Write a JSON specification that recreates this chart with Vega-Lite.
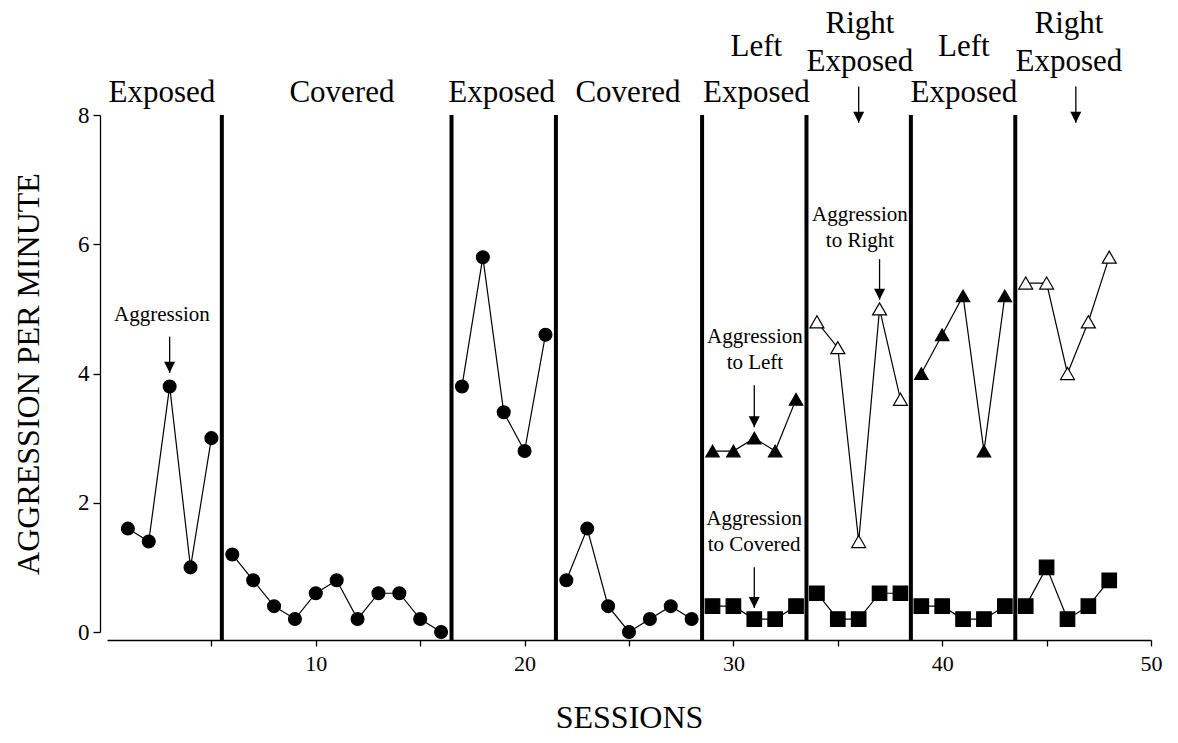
{
  "$schema": "https://vega.github.io/schema/vega-lite/v6.json",
  "width": 1044,
  "height": 517,
  "autosize": {"type": "none"},
  "padding": {"left": 107, "top": 115, "right": 27, "bottom": 111},
  "background": "white",
  "config": {
    "view": {"stroke": null},
    "font": "Liberation Serif",
    "axis": {
      "grid": false,
      "domainColor": "black",
      "tickColor": "black",
      "labelColor": "black",
      "titleColor": "black",
      "labelFont": "Liberation Serif",
      "titleFont": "Liberation Serif",
      "titleFontWeight": "normal",
      "domainWidth": 1.3,
      "tickWidth": 1.3
    }
  },
  "encoding": {
    "x": {
      "field": "s",
      "type": "quantitative",
      "scale": {"domain": [0, 50], "nice": false, "zero": false},
      "axis": {
        "title": "SESSIONS",
        "values": [5, 10, 15, 20, 25, 30, 35, 40, 45, 50],
        "labelExpr": "datum.value % 10 === 0 ? datum.label : ''",
        "offset": 8,
        "tickSize": 6,
        "labelFontSize": 22,
        "labelPadding": 7,
        "labelFlush": false,
        "titleFontSize": 32,
        "titlePadding": 28
      }
    },
    "y": {
      "field": "v",
      "type": "quantitative",
      "scale": {"domain": [0, 8], "nice": false},
      "axis": {
        "title": "AGGRESSION PER MINUTE",
        "values": [0, 2, 4, 6, 8],
        "offset": 7,
        "tickSize": 7,
        "labelFontSize": 23,
        "labelPadding": 4,
        "titleFontSize": 32,
        "titlePadding": 32
      }
    }
  },
  "layer": [
    {
      "data": {"name": "changes"},
      "mark": {"type": "rule", "strokeWidth": 4, "color": "black"},
      "encoding": {
        "y2": {"field": "bottom"}
      }
    },
    {
      "data": {"name": "pts"},
      "mark": {"type": "line", "color": "black", "strokeWidth": 1.2},
      "encoding": {
        "detail": [{"field": "series"}, {"field": "phase"}]
      }
    },
    {
      "data": {"name": "pts"},
      "mark": {"type": "point", "stroke": "black", "strokeWidth": 1.2, "opacity": 1, "fillOpacity": 1},
      "encoding": {
        "shape": {"field": "series", "type": "nominal", "scale": {"domain": ["Aggression", "Left", "Right", "Covered"], "range": ["circle", "triangle-up", "triangle-up", "square"]}, "legend": null},
        "fill": {"field": "series", "type": "nominal", "scale": {"domain": ["Aggression", "Left", "Right", "Covered"], "range": ["black", "black", "white", "black"]}, "legend": null},
        "size": {"field": "series", "type": "nominal", "scale": {"domain": ["Aggression", "Left", "Right", "Covered"], "range": [165, 210, 210, 185]}, "legend": null}
      }
    },
    {
      "data": {"name": "arrows"},
      "mark": {"type": "rule", "color": "black", "strokeWidth": 1.3},
      "encoding": {
        "y2": {"field": "top"}
      }
    },
    {
      "data": {"name": "arrows"},
      "mark": {"type": "point", "shape": "M-1,-2L1,-2L0,0Z", "size": 121, "filled": true, "color": "black", "opacity": 1, "strokeWidth": 0}
    },
    {
      "data": {"name": "phases"},
      "mark": {"type": "text", "fontSize": 31, "baseline": "alphabetic", "align": "center", "color": "black"},
      "encoding": {"text": {"field": "t"}}
    },
    {
      "data": {"name": "notes"},
      "mark": {"type": "text", "fontSize": 21, "baseline": "alphabetic", "align": "center", "lineHeight": 26, "color": "black"},
      "encoding": {"text": {"field": "t"}}
    }
  ],
  "datasets": {
    "changes": [
      {"s": 5.5, "v": 8, "bottom": -0.124},
      {"s": 16.5, "v": 8, "bottom": -0.124},
      {"s": 21.5, "v": 8, "bottom": -0.124},
      {"s": 28.5, "v": 8, "bottom": -0.124},
      {"s": 33.5, "v": 8, "bottom": -0.124},
      {"s": 38.5, "v": 8, "bottom": -0.124},
      {"s": 43.5, "v": 8, "bottom": -0.124}
    ],
    "pts": [
      {"s": 1, "v": 1.6, "series": "Aggression", "phase": 1},
      {"s": 2, "v": 1.4, "series": "Aggression", "phase": 1},
      {"s": 3, "v": 3.8, "series": "Aggression", "phase": 1},
      {"s": 4, "v": 1.0, "series": "Aggression", "phase": 1},
      {"s": 5, "v": 3.0, "series": "Aggression", "phase": 1},
      {"s": 6, "v": 1.2, "series": "Aggression", "phase": 2},
      {"s": 7, "v": 0.8, "series": "Aggression", "phase": 2},
      {"s": 8, "v": 0.4, "series": "Aggression", "phase": 2},
      {"s": 9, "v": 0.2, "series": "Aggression", "phase": 2},
      {"s": 10, "v": 0.6, "series": "Aggression", "phase": 2},
      {"s": 11, "v": 0.8, "series": "Aggression", "phase": 2},
      {"s": 12, "v": 0.2, "series": "Aggression", "phase": 2},
      {"s": 13, "v": 0.6, "series": "Aggression", "phase": 2},
      {"s": 14, "v": 0.6, "series": "Aggression", "phase": 2},
      {"s": 15, "v": 0.2, "series": "Aggression", "phase": 2},
      {"s": 16, "v": 0.0, "series": "Aggression", "phase": 2},
      {"s": 17, "v": 3.8, "series": "Aggression", "phase": 3},
      {"s": 18, "v": 5.8, "series": "Aggression", "phase": 3},
      {"s": 19, "v": 3.4, "series": "Aggression", "phase": 3},
      {"s": 20, "v": 2.8, "series": "Aggression", "phase": 3},
      {"s": 21, "v": 4.6, "series": "Aggression", "phase": 3},
      {"s": 22, "v": 0.8, "series": "Aggression", "phase": 4},
      {"s": 23, "v": 1.6, "series": "Aggression", "phase": 4},
      {"s": 24, "v": 0.4, "series": "Aggression", "phase": 4},
      {"s": 25, "v": 0.0, "series": "Aggression", "phase": 4},
      {"s": 26, "v": 0.2, "series": "Aggression", "phase": 4},
      {"s": 27, "v": 0.4, "series": "Aggression", "phase": 4},
      {"s": 28, "v": 0.2, "series": "Aggression", "phase": 4},
      {"s": 29, "v": 2.8, "series": "Left", "phase": 5},
      {"s": 30, "v": 2.8, "series": "Left", "phase": 5},
      {"s": 31, "v": 3.0, "series": "Left", "phase": 5},
      {"s": 32, "v": 2.8, "series": "Left", "phase": 5},
      {"s": 33, "v": 3.6, "series": "Left", "phase": 5},
      {"s": 29, "v": 0.4, "series": "Covered", "phase": 5},
      {"s": 30, "v": 0.4, "series": "Covered", "phase": 5},
      {"s": 31, "v": 0.2, "series": "Covered", "phase": 5},
      {"s": 32, "v": 0.2, "series": "Covered", "phase": 5},
      {"s": 33, "v": 0.4, "series": "Covered", "phase": 5},
      {"s": 34, "v": 4.8, "series": "Right", "phase": 6},
      {"s": 35, "v": 4.4, "series": "Right", "phase": 6},
      {"s": 36, "v": 1.4, "series": "Right", "phase": 6},
      {"s": 37, "v": 5.0, "series": "Right", "phase": 6},
      {"s": 38, "v": 3.6, "series": "Right", "phase": 6},
      {"s": 34, "v": 0.6, "series": "Covered", "phase": 6},
      {"s": 35, "v": 0.2, "series": "Covered", "phase": 6},
      {"s": 36, "v": 0.2, "series": "Covered", "phase": 6},
      {"s": 37, "v": 0.6, "series": "Covered", "phase": 6},
      {"s": 38, "v": 0.6, "series": "Covered", "phase": 6},
      {"s": 39, "v": 4.0, "series": "Left", "phase": 7},
      {"s": 40, "v": 4.6, "series": "Left", "phase": 7},
      {"s": 41, "v": 5.2, "series": "Left", "phase": 7},
      {"s": 42, "v": 2.8, "series": "Left", "phase": 7},
      {"s": 43, "v": 5.2, "series": "Left", "phase": 7},
      {"s": 39, "v": 0.4, "series": "Covered", "phase": 7},
      {"s": 40, "v": 0.4, "series": "Covered", "phase": 7},
      {"s": 41, "v": 0.2, "series": "Covered", "phase": 7},
      {"s": 42, "v": 0.2, "series": "Covered", "phase": 7},
      {"s": 43, "v": 0.4, "series": "Covered", "phase": 7},
      {"s": 44, "v": 5.4, "series": "Right", "phase": 8},
      {"s": 45, "v": 5.4, "series": "Right", "phase": 8},
      {"s": 46, "v": 4.0, "series": "Right", "phase": 8},
      {"s": 47, "v": 4.8, "series": "Right", "phase": 8},
      {"s": 48, "v": 5.8, "series": "Right", "phase": 8},
      {"s": 44, "v": 0.4, "series": "Covered", "phase": 8},
      {"s": 45, "v": 1.0, "series": "Covered", "phase": 8},
      {"s": 46, "v": 0.2, "series": "Covered", "phase": 8},
      {"s": 47, "v": 0.4, "series": "Covered", "phase": 8},
      {"s": 48, "v": 0.8, "series": "Covered", "phase": 8}
    ],
    "arrows": [
      {"s": 3, "v": 4.01, "top": 4.57},
      {"s": 31, "v": 3.17, "top": 3.82},
      {"s": 31, "v": 0.37, "top": 1.0},
      {"s": 37, "v": 5.14, "top": 5.77},
      {"s": 36, "v": 7.88, "top": 8.44},
      {"s": 46.4, "v": 7.88, "top": 8.44}
    ],
    "phases": [
      {"t": "Exposed", "s": 2.63, "v": 8.2},
      {"t": "Covered", "s": 11.25, "v": 8.2},
      {"t": "Exposed", "s": 18.9, "v": 8.2},
      {"t": "Covered", "s": 24.95, "v": 8.2},
      {"t": "Left", "s": 31.1, "v": 8.92},
      {"t": "Exposed", "s": 31.1, "v": 8.2},
      {"t": "Right", "s": 36.06, "v": 9.27},
      {"t": "Exposed", "s": 36.06, "v": 8.68},
      {"t": "Left", "s": 41.04, "v": 8.92},
      {"t": "Exposed", "s": 41.04, "v": 8.2},
      {"t": "Right", "s": 46.07, "v": 9.27},
      {"t": "Exposed", "s": 46.07, "v": 8.68}
    ],
    "notes": [
      {"t": "Aggression", "s": 2.63, "v": 4.81},
      {"t": ["Aggression", "to Left"], "s": 31.03, "v": 4.47},
      {"t": ["Aggression", "to Covered"], "s": 30.99, "v": 1.66},
      {"t": ["Aggression", "to Right"], "s": 36.06, "v": 6.36}
    ]
  }
}
